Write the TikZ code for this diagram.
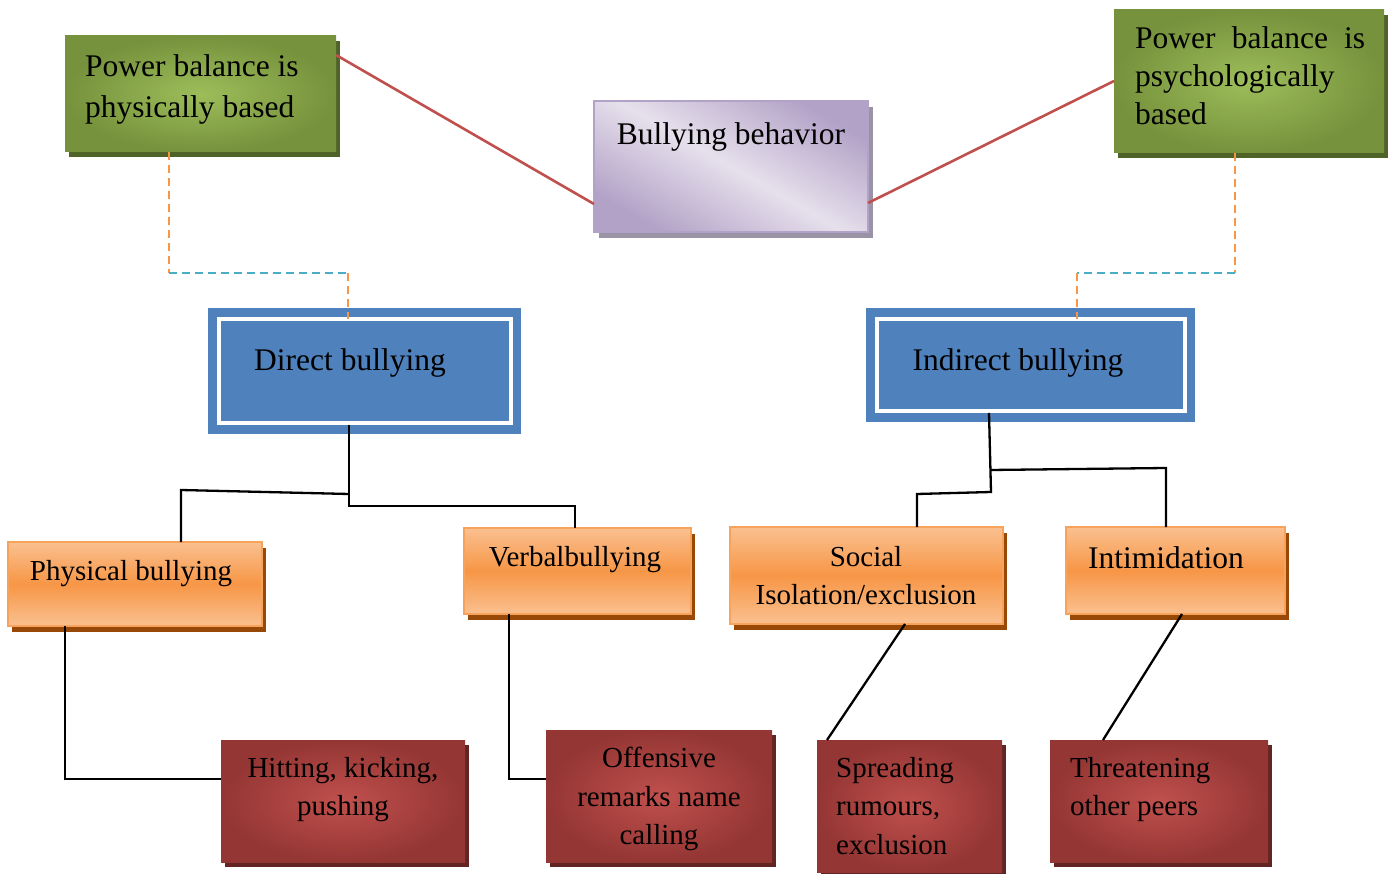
\documentclass[tikz,border=0pt]{standalone}
\usepackage{fontspec}
\setmainfont{Liberation Serif}
\usetikzlibrary{shadows,calc}
\definecolor{gL}{HTML}{9DBD5A}
\definecolor{gD}{HTML}{76923C}
\definecolor{gS}{HTML}{4F6228}
\definecolor{pL}{HTML}{E6E0EC}
\definecolor{pD}{HTML}{B3A2C7}
\definecolor{pS}{HTML}{9A93A6}
\definecolor{bC}{HTML}{4F81BD}
\definecolor{oL}{HTML}{FAC090}
\definecolor{oM}{HTML}{F79646}
\definecolor{oS}{HTML}{984807}
\definecolor{rL}{HTML}{C0504D}
\definecolor{rD}{HTML}{943634}
\definecolor{rS}{HTML}{632523}
\definecolor{cyanC}{HTML}{4BACC6}
\definecolor{lineR}{HTML}{C0504D}
\tikzset{
  box/.style={anchor=north west, inner sep=0pt, outer sep=0pt},
  greenbox/.style={box, inner color=gL, outer color=gD,
    drop shadow={shadow xshift=4pt, shadow yshift=-5pt, fill=gS, opacity=1}},
  purplebox/.style={box, draw=pD, line width=1.5pt, top color=pD, bottom color=pD, middle color=pL, shading angle=-30,
    drop shadow={shadow xshift=5pt, shadow yshift=-6pt, fill=pS, opacity=1}},
  bluebox/.style={box, fill=bC,
    path picture={\draw[white, line width=4pt]
      ([shift={(11pt,-11pt)}]path picture bounding box.north west) rectangle
      ([shift={(-10pt,11pt)}]path picture bounding box.south east);}},
  orangebox/.style={box, draw=oM!70!oL, line width=1.5pt, top color=oL, bottom color=oL, middle color=oM,
    drop shadow={shadow xshift=4pt, shadow yshift=-6pt, fill=oS, opacity=1}},
  redbox/.style={box, inner color=rL, outer color=rD,
    drop shadow={shadow xshift=4pt, shadow yshift=-5pt, fill=rS, opacity=1}},
  big/.style={inner sep=0pt, font=\fontsize{31.5}{41}\selectfont},
  small/.style={inner sep=0pt, font=\fontsize{29}{38.5}\selectfont},
  conn/.style={line width=2.3pt, black},
  redline/.style={line width=2.6pt, lineR},
  dashO/.style={line width=2.6pt, oM, dash pattern=on 8pt off 5pt},
  dashC/.style={line width=2.6pt, cyanC, dash pattern=on 8pt off 5pt},
}
\begin{document}
\begin{tikzpicture}[x=1pt, y=-1pt]
\useasboundingbox (0,0) rectangle (1393,874);
% boxes
\node[greenbox, minimum width=271pt, minimum height=116pt] (pl) at (65,36) {};
\node[purplebox, minimum width=274pt, minimum height=131pt] (bb) at (594,101) {};
\node[greenbox, minimum width=270pt, minimum height=143pt] (pr) at (1114,10) {};
\node[bluebox, minimum width=313pt, minimum height=126pt] (direct) at (208,308) {};
\node[bluebox, minimum width=329pt, minimum height=114pt] (indirect) at (866,308) {};
\node[orangebox, minimum width=254pt, minimum height=84pt] (phys) at (8,542) {};
\node[orangebox, minimum width=227pt, minimum height=86pt] (verbal) at (464,528) {};
\node[orangebox, minimum width=273pt, minimum height=97pt] (social) at (730,527) {};
\node[orangebox, minimum width=219pt, minimum height=87pt] (intim) at (1066,527) {};
\node[redbox, minimum width=244pt, minimum height=122pt] (hit) at (221,740) {};
\node[redbox, minimum width=226pt, minimum height=132pt] (off) at (546,730) {};
\node[redbox, minimum width=185pt, minimum height=132pt] (spread) at (817,740) {};
\node[redbox, minimum width=218pt, minimum height=122pt] (threat) at (1050,740) {};
% texts
\node[big, anchor=north west, align=left] (plt) at (85,54) {Power balance is\\physically based};
\node[big, anchor=base] (bbt) at (731,145) {Bullying behavior};
\node[big, anchor=north west, align=left, font=\fontsize{31.5}{38}\selectfont] (prt) at (1135,26)
  {\makebox[230pt][s]{Power balance is}\\psychologically\\based};
\node[big, anchor=base] (directt) at (350,371) {Direct bullying};
\node[big, anchor=base] (indirectt) at (1018,371) {Indirect bullying};
\node[small, anchor=base] (physt) at (131,580) {Physical bullying};
\node[small, anchor=base] (verbalt) at (575,566) {Verbalbullying};
\node[small, anchor=north, align=center] (socialt) at (866,546) {Social\\Isolation/exclusion};
\node[big, anchor=base] (intimt) at (1166,568) {Intimidation};
\node[small, anchor=north, align=center] (hitt) at (343,757) {Hitting, kicking,\\pushing};
\node[small, anchor=north, align=center] (offt) at (659,747) {Offensive\\remarks name\\calling};
\node[small, anchor=north west, align=left] (spreadt) at (836,757) {Spreading\\rumours,\\exclusion};
\node[small, anchor=north west, align=left] (threatt) at (1070,757) {Threatening\\other peers};
% red connectors
\draw[redline] (pl.east |- 0,55) -- (bb.west |- 0,204);
\draw[redline] (bb.east |- 0,203) -- (pr.west |- 0,81);
% dashed connectors
\coordinate (dl1) at (169,273);
\coordinate (dl2) at (348,273);
\coordinate (dl3) at (348,319);
\coordinate (dr1) at (1235,273);
\coordinate (dr2) at (1077,273);
\coordinate (dr3) at (1077,319);
\draw[dashO] (pl.south -| dl1) -- (dl1);
\draw[dashC] (dl1) -- (dl2);
\draw[dashO] (dl2) -- (dl3);
\draw[dashO] (pr.south -| dr1) -- (dr1);
\draw[dashC] (dr1) -- (dr2);
\draw[dashO] (dr2) -- (dr3);
% direct tree
\coordinate (d0) at (349,425);
\coordinate (dj1) at (349,494);
\coordinate (dj2) at (349,506);
\coordinate (dl) at (181,490);
\draw[conn] (d0) -- (dj2) -| (verbal.north -| 575,0);
\draw[conn] (dj1) -- (dl) -- (dl |- phys.north);
% indirect tree
\coordinate (i0) at (989,413);
\coordinate (ij1) at (990,470);
\coordinate (ij2) at (991,492);
\coordinate (ir) at (1166,468);
\coordinate (il) at (917,494);
\draw[conn] (i0) -- (ij2) -- (il) -- (il |- social.north);
\draw[conn] (ij1) -- (ir) -- (ir |- intim.north);
% lower connectors
\coordinate (pc) at (65,779);
\draw[conn] (phys.south -| pc) -- (pc) -- (pc -| hit.west);
\coordinate (vc) at (509,779);
\draw[conn] (verbal.south -| vc) -- (vc) -- (vc -| off.west);
\draw[conn] (social.south -| 905,0) -- (spread.north -| 827,0);
\draw[conn] (intim.south -| 1182,0) -- (threat.north -| 1103,0);
\end{tikzpicture}
\end{document}
